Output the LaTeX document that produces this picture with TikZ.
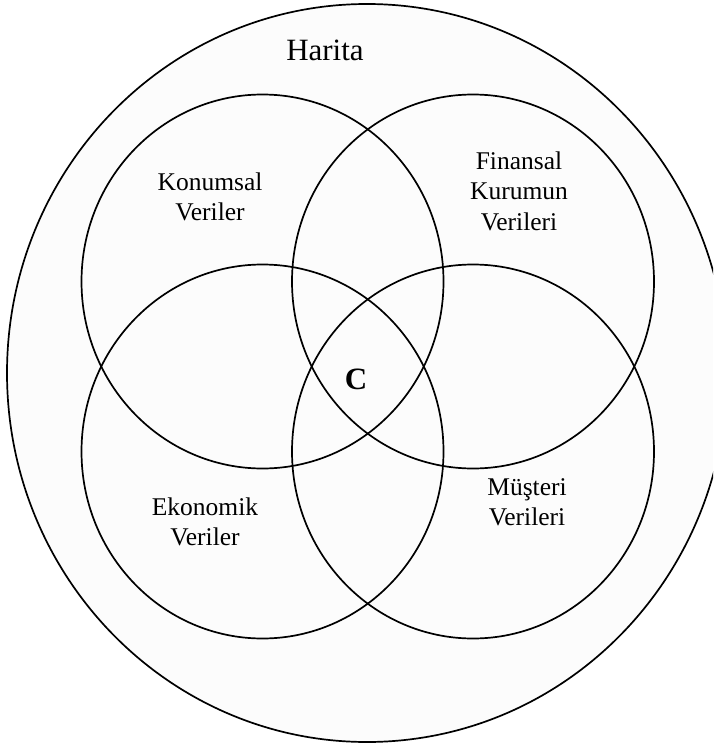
\documentclass[tikz,border=0pt]{standalone}
\usepackage{fontspec}
\setmainfont{Liberation Serif}
\usetikzlibrary{positioning}
\definecolor{MapFill}{HTML}{FCFCFC}

\begin{document}
\begin{tikzpicture}[x=1pt,y=-1pt,
      set/.style={draw=black,line width=1.7pt},
      setlabel/.style={align=center,inner sep=0pt,
        font=\fontsize{25.5}{30.5}\selectfont},
      maplabel/.style={inner sep=0pt,font=\fontsize{31}{36}\selectfont},
      corelabel/.style={inner sep=0pt,font=\fontsize{31}{36}\selectfont\bfseries}
    ]
      \clip (0,0) rectangle (713,743);
      \fill[white] (0,0) rectangle (713,743);
      % outer map
      \coordinate (harita) at (367,373);
      \draw[set,fill=MapFill] (harita) ellipse [x radius=360,y radius=369];
      % the four data sets
      \coordinate (kon) at (262.5,281.5);
      \coordinate (fin) at (473,281.5);
      \coordinate (eko) at (262.5,451.5);
      \coordinate (mus) at (473,451.5);
      \foreach \c in {kon,fin,eko,mus}
        \draw[set] (\c) ellipse [x radius=181,y radius=187];
      \node[maplabel] (lharita) at (325,50) {Harita};
      \node[setlabel] (lkon) at (210,197) {Konumsal\\Veriler};
      \node[setlabel] (lfin) at (519,191) {Finansal\\Kurumun\\Verileri};
      \node[setlabel] (leko) at (205,522) {Ekonomik\\Veriler};
      \node[setlabel] (lmus) at (527,502) {Müşteri\\Verileri};
      \node[corelabel] (lc) at (356,379) {C};
    \end{tikzpicture}
\end{document}
